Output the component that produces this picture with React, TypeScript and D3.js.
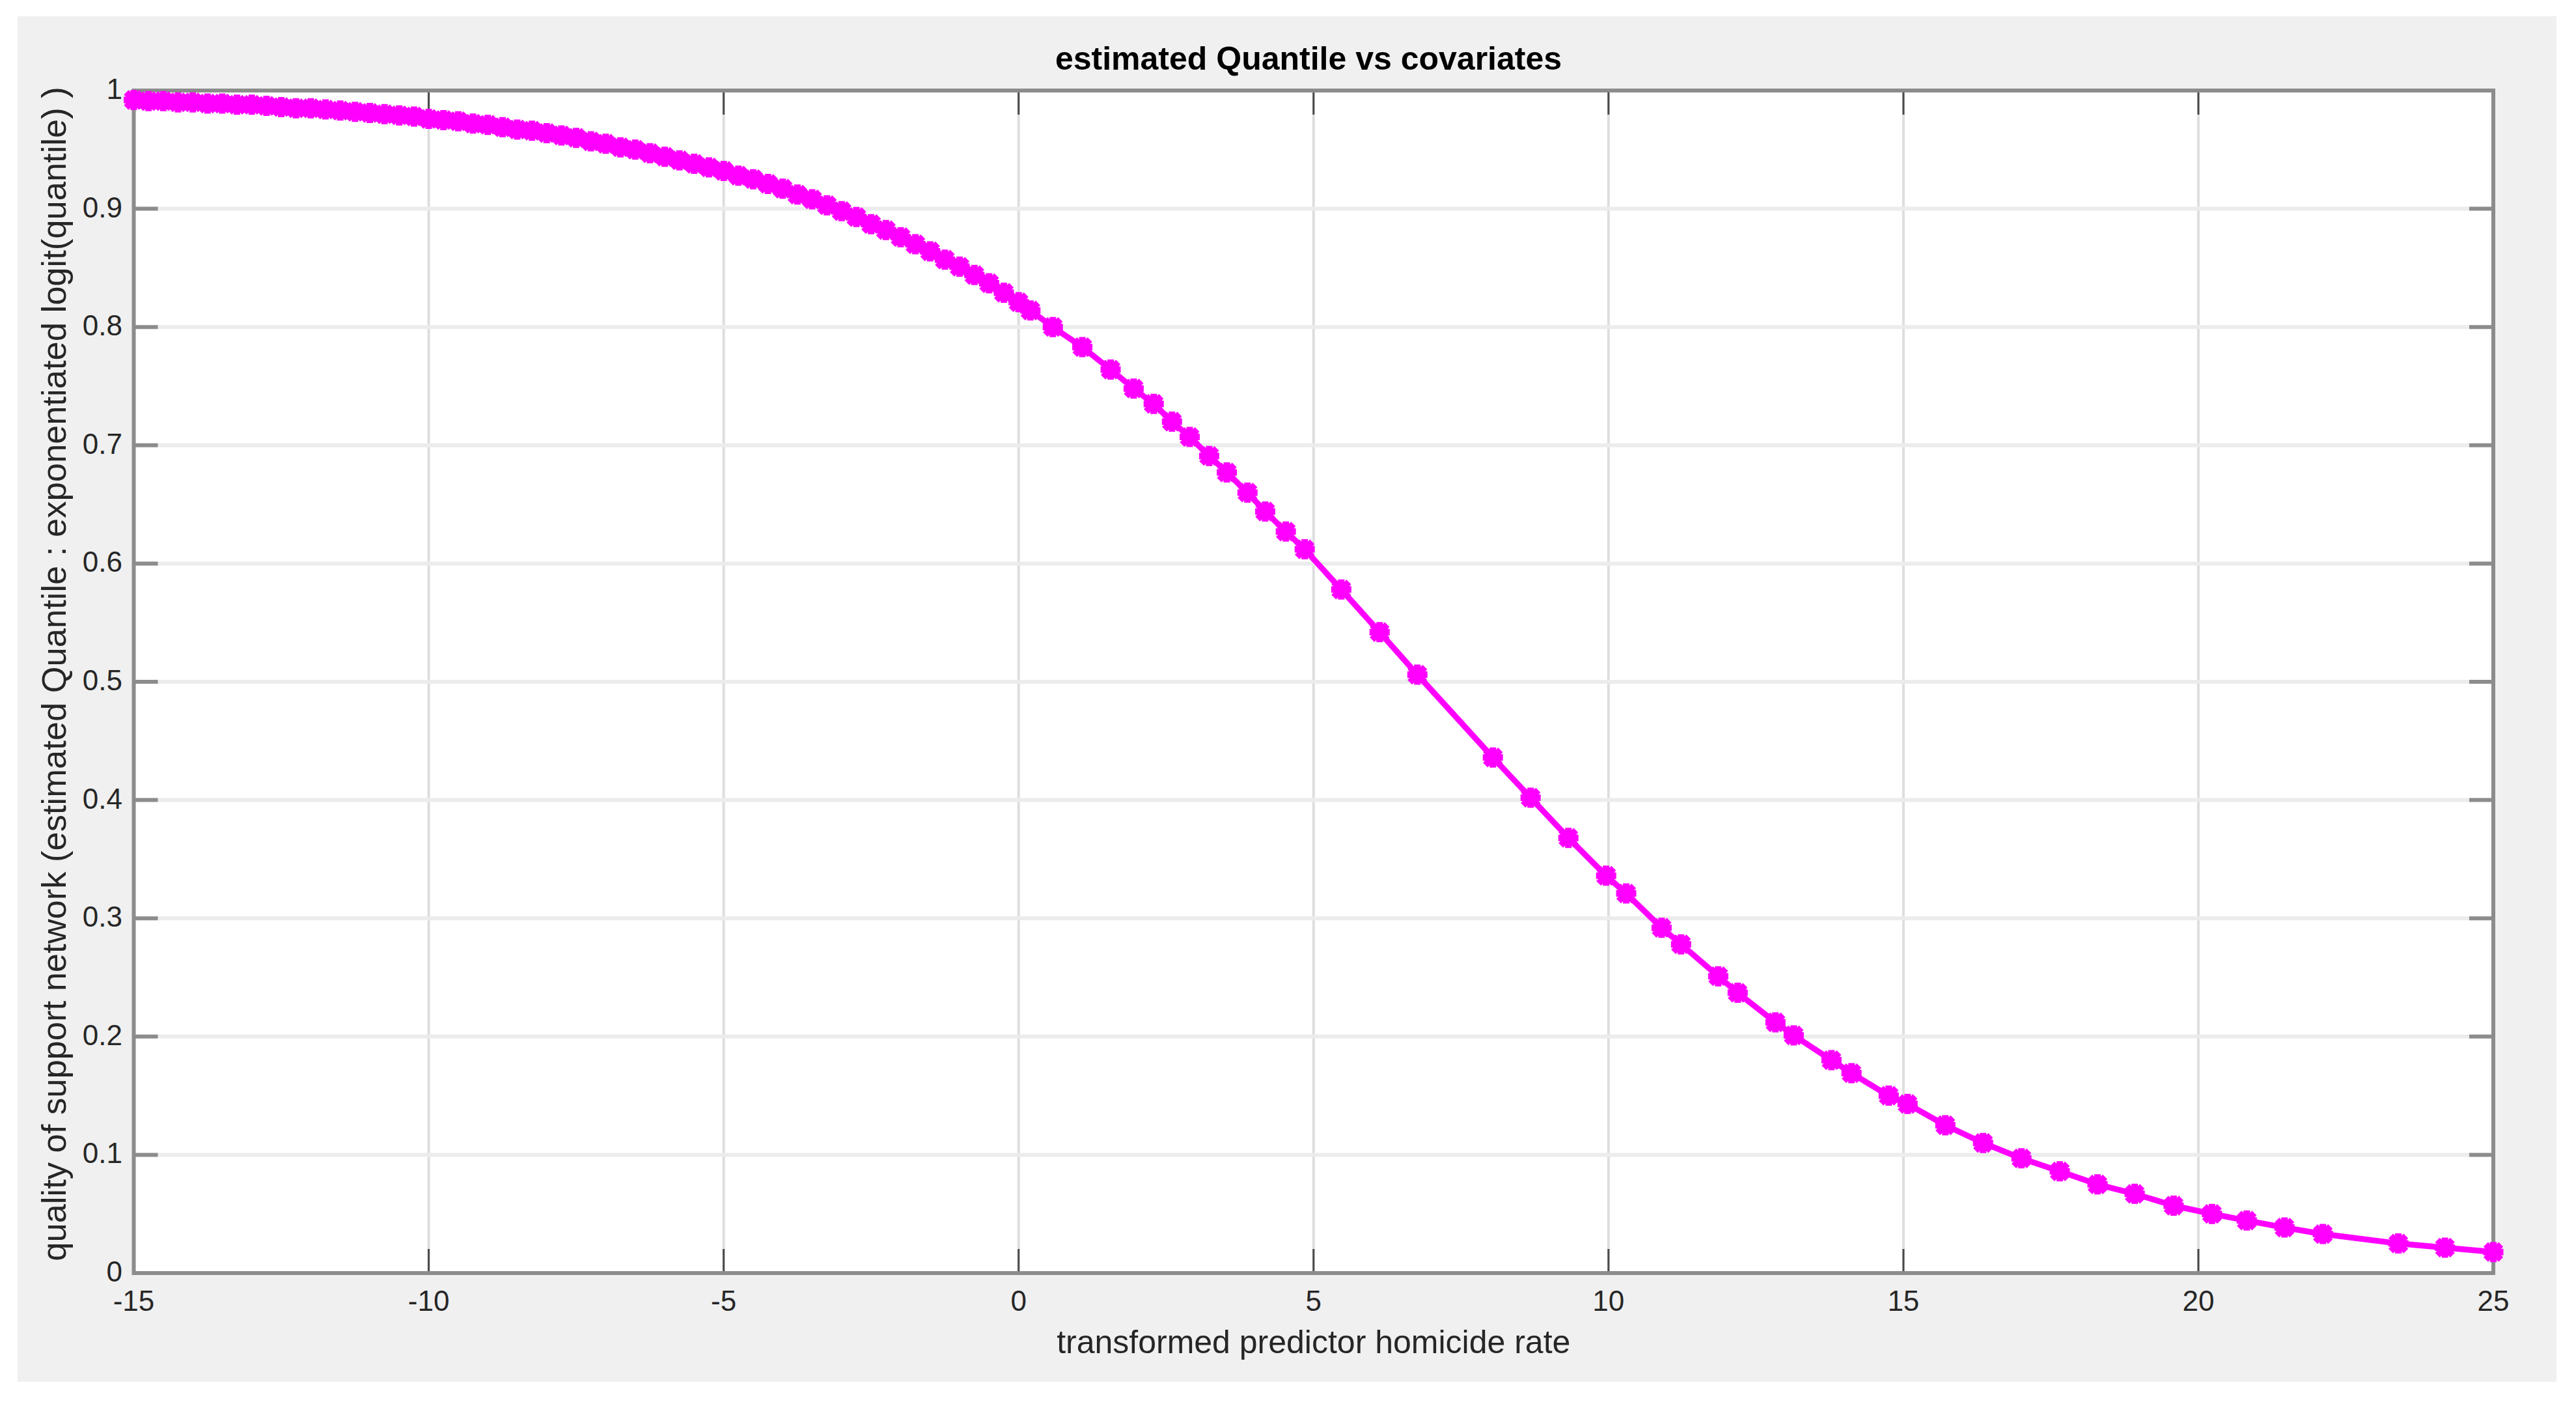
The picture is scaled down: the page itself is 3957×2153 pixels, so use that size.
import React from "react";
import * as d3 from "d3";

const W = 3957;
const H = 2153;

// data
const xValues: number[] = [
  -15, -14.75, -14.5, -14.25, -14, -13.75, -13.5, -13.25, -13, -12.75, -12.5, -12.25,
  -12, -11.75, -11.5, -11.25, -11, -10.75, -10.5, -10.25, -10, -9.75, -9.5, -9.25,
  -9, -8.75, -8.5, -8.25, -8, -7.75, -7.5, -7.25, -7, -6.75, -6.5, -6.25,
  -6, -5.75, -5.5, -5.25, -5, -4.75, -4.5, -4.25, -4, -3.75, -3.5, -3.25,
  -3, -2.75, -2.5, -2.25, -2, -1.75, -1.5, -1.25, -1, -0.75, -0.5, -0.25,
  0, 0.2,
  0.58, 1.08, 1.56, 1.95, 2.29, 2.6, 2.9, 3.23, 3.53, 3.88, 4.18, 4.53, 4.85,
  5.47, 6.12, 6.76, 8.04, 8.68, 9.32, 9.96, 10.3, 10.9, 11.23, 11.86, 12.19,
  12.83, 13.14, 13.78, 14.12, 14.75, 15.07, 15.71, 16.35, 17.0, 17.65, 18.29,
  18.92, 19.58, 20.23, 20.82, 21.46, 22.11, 23.39, 24.18, 25.0,
];
const yValues: number[] = [
  0.992, 0.991, 0.991, 0.99, 0.99, 0.989, 0.989, 0.988, 0.988, 0.987, 0.986, 0.985,
  0.985, 0.984, 0.983, 0.982, 0.981, 0.98, 0.979, 0.978, 0.976, 0.975, 0.974, 0.972,
  0.971, 0.969, 0.967, 0.966, 0.964, 0.962, 0.96, 0.957, 0.955, 0.952, 0.95, 0.947,
  0.944, 0.941, 0.938, 0.935, 0.932, 0.928, 0.925, 0.921, 0.917, 0.912, 0.908, 0.903,
  0.898, 0.893, 0.887, 0.882, 0.876, 0.87, 0.864, 0.857, 0.851, 0.844, 0.837, 0.829,
  0.821, 0.814,
  0.8, 0.783, 0.764, 0.748, 0.735, 0.72, 0.707, 0.691, 0.677, 0.66, 0.644, 0.627, 0.612,
  0.578, 0.542, 0.506, 0.436, 0.402, 0.368, 0.336, 0.321, 0.292, 0.278, 0.251, 0.237,
  0.212, 0.201, 0.18, 0.169, 0.15, 0.143, 0.125, 0.11, 0.097, 0.086, 0.075,
  0.067, 0.057, 0.05, 0.0444, 0.0385, 0.033, 0.025, 0.0215, 0.0178,
];
const xTicks: number[] = [-15, -10, -5, 0, 5, 10, 15, 20, 25];
const yTicks: number[] = [0, 0.1, 0.2, 0.3, 0.4, 0.5, 0.6, 0.7, 0.8, 0.9, 1];

const titleText = "estimated Quantile vs covariates";
const xLabelText = "transformed predictor homicide rate";
const yLabelText =
  "quality of support network (estimated Quantile : exponentiated logit(quantile) )";

const FONT = "'Liberation Sans', Arial, Helvetica, sans-serif";

export default function App() {
  const left = 205.5;
  const right = 3830;
  const top = 139;
  const bottom = 1955;

  const x = d3.scaleLinear().domain([-15, 25]).range([left, right]);
  const y = d3.scaleLinear().domain([0, 1]).range([bottom, top]);

  const pts = xValues.map((v, i) => [v, yValues[i]] as [number, number]);
  const line = d3
    .line<[number, number]>()
    .x((d) => x(d[0]))
    .y((d) => y(d[1]));

  const r = 15.5;
  const rd = r * 0.75;
  const star = `M${-r},0H${r}M0,${-r}V${r}M${-rd},${-rd}L${rd},${rd}M${-rd},${rd}L${rd},${-rd}`;
  const tickLen = 37;
  const magenta = "#ff00ff";

  const fmt = (v: number) => (v === 0 || v === 1 ? String(v) : d3.format(".1f")(v));

  return (
    <svg
      width={W}
      height={H}
      style={{ position: "absolute", left: 0, top: 0, display: "block" }}
      fontFamily={FONT}
    >
      <rect x={0} y={0} width={W} height={H} fill="#ffffff" />
      <rect x={27} y={25} width={3900} height={2097} fill="#f0f0f0" />
      <rect x={left} y={top} width={right - left} height={bottom - top} fill="#ffffff" />

      {/* grid */}
      {xTicks.slice(1, -1).map((t) => (
        <line key={"gx" + t} x1={x(t)} x2={x(t)} y1={top} y2={bottom} stroke="#dedede" strokeWidth={4} />
      ))}
      {yTicks.slice(1, -1).map((t) => (
        <line key={"gy" + t} x1={left} x2={right} y1={y(t)} y2={y(t)} stroke="#ececec" strokeWidth={6} />
      ))}

      {/* ticks */}
      {xTicks.map((t) => (
        <g key={"tx" + t}>
          <line x1={x(t)} x2={x(t)} y1={bottom} y2={bottom - tickLen} stroke="#4a4a4a" strokeWidth={3} />
          <line x1={x(t)} x2={x(t)} y1={top} y2={top + tickLen} stroke="#4a4a4a" strokeWidth={3} />
        </g>
      ))}
      {yTicks.map((t) => (
        <g key={"ty" + t}>
          <line x1={left} x2={left + tickLen} y1={y(t)} y2={y(t)} stroke="#8c8c8c" strokeWidth={6} />
          <line x1={right} x2={right - tickLen} y1={y(t)} y2={y(t)} stroke="#8c8c8c" strokeWidth={6} />
        </g>
      ))}

      {/* axes box */}
      <rect
        x={left}
        y={top}
        width={right - left}
        height={bottom - top}
        fill="none"
        stroke="#8c8c8c"
        strokeWidth={6}
      />

      {/* tick labels */}
      {xTicks.map((t) => (
        <text key={"lx" + t} x={x(t)} y={2013} textAnchor="middle" fontSize={44} fill="#262626">
          {String(t)}
        </text>
      ))}
      {yTicks.map((t) => (
        <text key={"ly" + t} x={188} y={y(t) + 13} textAnchor="end" fontSize={44} fill="#262626">
          {fmt(t)}
        </text>
      ))}

      {/* series */}
      <path d={line(pts) || ""} fill="none" stroke={magenta} strokeWidth={9} strokeLinejoin="round" />
      {pts.map((p, i) => (
        <path
          key={"m" + i}
          d={star}
          transform={`translate(${x(p[0])},${y(p[1])})`}
          fill="none"
          stroke={magenta}
          strokeWidth={10}
        />
      ))}

      {/* labels */}
      <text x={2010} y={107} textAnchor="middle" fontSize={50} fontWeight="bold" fill="#000">
        {titleText}
      </text>
      <text x={(left + right) / 2} y={2078} textAnchor="middle" fontSize={50} fill="#262626">
        {xLabelText}
      </text>
      <text
        transform={`translate(101,${(top + bottom) / 2 - 12}) rotate(-90)`}
        textAnchor="middle"
        fontSize={52.5}
        fill="#262626"
      >
        {yLabelText}
      </text>
    </svg>
  );
}
